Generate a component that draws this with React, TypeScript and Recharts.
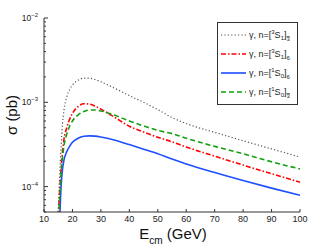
import React from 'react';
import { LineChart, Line, XAxis, YAxis, Legend, Label } from 'recharts';

// collision energy grid (GeV)
const energies = [15, 15.5, 16, 16.5, 17, 18, 19, 20, 22, 24, 26, 28, 30, 35, 40, 45, 50, 55, 60, 70, 80, 90, 100];

// cross sections (pb)
const s3S1_3 = [5e-5, 1.3e-4, 3.0e-4, 5.5e-4, 8e-4, 1.15e-3, 1.42e-3, 1.6e-3, 1.83e-3, 1.94e-3, 1.93e-3, 1.86e-3, 1.75e-3, 1.46e-3, 1.2e-3, 1.0e-3, 8.2e-4, 6.6e-4, 5.6e-4, 4.4e-4, 3.5e-4, 2.8e-4, 2.24e-4];
const s3S1_6 = [4.5e-5, 8.5e-5, 1.6e-4, 2.6e-4, 3.6e-4, 5.0e-4, 6.3e-4, 7.4e-4, 8.9e-4, 9.6e-4, 9.5e-4, 9.0e-4, 8.3e-4, 6.6e-4, 5.2e-4, 4.45e-4, 3.85e-4, 3.4e-4, 2.95e-4, 2.3e-4, 1.8e-4, 1.42e-4, 1.13e-4];
const s1S0_6 = [2e-5, 4e-5, 1.0e-4, 1.6e-4, 2.05e-4, 2.6e-4, 3.0e-4, 3.35e-4, 3.75e-4, 3.95e-4, 4.0e-4, 3.97e-4, 3.88e-4, 3.55e-4, 3.15e-4, 2.78e-4, 2.45e-4, 2.12e-4, 1.86e-4, 1.47e-4, 1.18e-4, 9.6e-5, 7.9e-5];
const s1S0_3 = [3.5e-5, 7e-5, 1.4e-4, 2.2e-4, 3.0e-4, 4.2e-4, 5.2e-4, 6.0e-4, 7.1e-4, 7.8e-4, 8.1e-4, 8.1e-4, 7.9e-4, 7.0e-4, 6.0e-4, 5.25e-4, 4.65e-4, 4.25e-4, 3.75e-4, 3.0e-4, 2.45e-4, 1.97e-4, 1.62e-4];

const xTicks = [10, 20, 30, 40, 50, 60, 70, 80, 90, 100];
const yTicks = [
  5e-5, 6e-5, 7e-5, 8e-5, 9e-5,
  1e-4, 2e-4, 3e-4, 4e-4, 5e-4, 6e-4, 7e-4, 8e-4, 9e-4,
  1e-3, 2e-3, 3e-3, 4e-3, 5e-3, 6e-3, 7e-3, 8e-3, 9e-3,
  1e-2,
];

const data = energies.map((e, i) => ({
  e,
  a: s3S1_3[i],
  b: s3S1_6[i],
  c: s1S0_6[i],
  d: s1S0_3[i],
}));

const FONT = 'Liberation Sans, Arial, sans-serif';
const AXIS = '#333';

const series = [
  { key: 'a', color: '#555', width: 1.2, dash: '1.2 2.2', sup: '3', sub: '1', col: '3', bar: true },
  { key: 'b', color: '#ff0000', width: 1.6, dash: '5 2 1.5 2', sup: '3', sub: '1', col: '6', bar: false },
  { key: 'c', color: '#1f4fff', width: 1.6, dash: undefined, sup: '1', sub: '0', col: '6', bar: false },
  { key: 'd', color: '#10a010', width: 1.6, dash: '5 3', sup: '1', sub: '0', col: '3', bar: true },
];

const isMajor = (v: number) => Math.abs(Math.log10(v) - Math.round(Math.log10(v))) < 1e-6;

const LeftTick = (props: any) => {
  const { x, y, payload } = props;
  const v = payload.value;
  const major = isMajor(v);
  const exp = Math.round(Math.log10(v));
  return (
    <g>
      <line x1={x} y1={y} x2={x + (major ? 4 : 2)} y2={y} stroke={AXIS} strokeWidth={1} />
      {major && (
        <text x={x - 6} y={y + 3} textAnchor="end" fontSize={8.5} fill="#222" fontFamily={FONT}>
          <tspan>10</tspan>
          <tspan dy={-4} fontSize={6}>{'\u2212' + Math.abs(exp)}</tspan>
        </text>
      )}
    </g>
  );
};

const RightTick = (props: any) => {
  const { x, y, payload } = props;
  const major = isMajor(payload.value);
  return <line x1={x} y1={y} x2={x - (major ? 4 : 2)} y2={y} stroke={AXIS} strokeWidth={1} />;
};

const BottomTick = (props: any) => {
  const { x, y, payload } = props;
  return (
    <g>
      <line x1={x} y1={y} x2={x} y2={y - 3} stroke={AXIS} strokeWidth={1} />
      <text x={x} y={y + 9.5} textAnchor="middle" fontSize={9} fill="#222" fontFamily={FONT}>
        {payload.value}
      </text>
    </g>
  );
};

const TopTick = (props: any) => {
  const { x, y } = props;
  return <line x1={x} y1={y} x2={x} y2={y + 3} stroke={AXIS} strokeWidth={1} />;
};

const XLabel = (props: any) => {
  const vb = props.viewBox;
  const cx = vb.x + vb.width / 2 + 1;
  return (
    <text x={cx} y={vb.y + 27} textAnchor="middle" fontSize={15} fill="#111" fontFamily={FONT}>
      <tspan>E</tspan>
      <tspan dy={5} fontSize={10}>cm</tspan>
      <tspan dy={-5}> (GeV)</tspan>
    </text>
  );
};

const YLabel = (props: any) => {
  const vb = props.viewBox;
  const cy = vb.y + vb.height / 2;
  return (
    <text x={17} y={cy} transform={`rotate(-90, 17, ${cy})`} textAnchor="middle" fontSize={15} fill="#111" fontFamily={FONT}>
      σ (pb)
    </text>
  );
};

const LegendBox = () => (
  <div style={{ width: 81, height: 83, border: `1px solid ${AXIS}`, background: '#fff', boxSizing: 'border-box' }}>
    <svg width={79} height={81}>
      {series.map((s, i) => {
        const y = 12 + i * 19;
        return (
          <g key={s.key}>
            <line x1={3} y1={y} x2={28} y2={y} stroke={s.color} strokeWidth={s.width} strokeDasharray={s.dash} />
            <text x={31} y={y + 3} fontSize={9} fill="#222" fontFamily={FONT}>
              <tspan>γ, n=[</tspan>
              <tspan dy={-4} fontSize={6}>{s.sup}</tspan>
              <tspan dy={4}>S</tspan>
              <tspan dy={2} fontSize={6}>{s.sub}</tspan>
              <tspan dy={-2}>]</tspan>
              <tspan dy={3} fontSize={6} textDecoration={s.bar ? 'overline' : undefined}>{s.col}</tspan>
            </text>
          </g>
        );
      })}
    </svg>
  </div>
);

export default function App() {
  return (
    <div style={{ position: 'absolute', left: 0, top: 0 }}>
      <LineChart width={332} height={250} data={data} margin={{ top: 18, right: 32, bottom: 0, left: 0 }}>
        <XAxis
          dataKey="e"
          type="number"
          domain={[10, 100]}
          ticks={xTicks}
          height={38}
          tickSize={0}
          tickMargin={0}
          tick={<BottomTick />}
          stroke={AXIS}
          interval={0}
        >
          <Label content={<XLabel />} />
        </XAxis>
        <XAxis
          xAxisId="top"
          orientation="top"
          dataKey="e"
          type="number"
          domain={[10, 100]}
          ticks={xTicks}
          height={0}
          tickSize={0}
          tickMargin={0}
          tick={<TopTick />}
          stroke={AXIS}
          interval={0}
        />
        <YAxis
          scale="log"
          type="number"
          domain={[5e-5, 1e-2]}
          allowDataOverflow
          ticks={yTicks}
          width={44}
          tickSize={0}
          tickMargin={0}
          tick={<LeftTick />}
          stroke={AXIS}
          interval={0}
        >
          <Label content={<YLabel />} />
        </YAxis>
        <YAxis
          yAxisId="right"
          orientation="right"
          scale="log"
          type="number"
          domain={[5e-5, 1e-2]}
          allowDataOverflow
          ticks={yTicks}
          width={0}
          tickSize={0}
          tickMargin={0}
          tick={<RightTick />}
          stroke={AXIS}
          interval={0}
        />
        <Legend
          layout="horizontal"
          verticalAlign="middle"
          align="center"
          content={<LegendBox />}
          wrapperStyle={{ position: 'absolute', left: 217, top: 22, width: 81, height: 83 }}
        />
        {series.map((s) => (
          <Line
            key={s.key}
            dataKey={s.key}
            type="monotone"
            stroke={s.color}
            strokeWidth={s.width}
            strokeDasharray={s.dash}
            dot={false}
            isAnimationActive={false}
          />
        ))}
      </LineChart>
    </div>
  );
}
